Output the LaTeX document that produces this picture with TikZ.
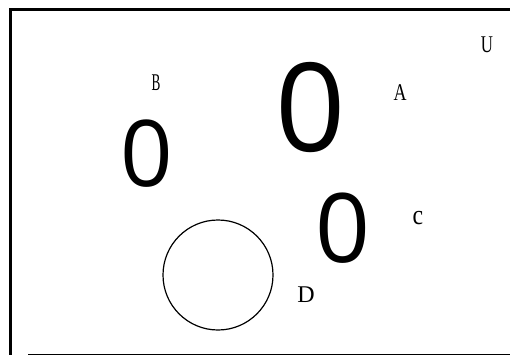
\documentclass[tikz,border=0pt]{standalone}
\usepackage{graphicx}
\usepackage{fontspec}
\setmainfont{Liberation Serif}
\newfontfamily\zerofont{Open Sans}
\begin{document}
\begin{tikzpicture}[x=1pt,y=-1pt,
  lbl/.style={inner sep=0pt, font=\fontsize{24}{24}\selectfont},
  zero/.style={inner sep=0pt},
  thickframe/.style={line width=2.6pt},
  thinframe/.style={line width=1pt},
  setcircle/.style={draw, circle, inner sep=0pt, minimum size=110pt, line width=1.2pt}]
\useasboundingbox (0,0) rectangle (510,355);
\coordinate (tl) at (10.5,9.7);
\coordinate (tr) at (510,9.7);
\coordinate (bl) at (10.5,355);
\coordinate (bbl) at (28,354);
\coordinate (bbr) at (510,354);
\draw[thickframe] (bl) -- (tl) -- (tr);
\draw[thinframe] (bbl) -- (bbr);
% labels
\node[lbl] (U) at (487,44.5) {\scalebox{0.7}[1]{U}};
\node[lbl] (B) at (156,83) {\scalebox{0.55}[1]{B}};
\node[lbl] (A) at (400,93) {\scalebox{0.75}[1]{A}};
\node[lbl, font=\fontsize{28}{28}\selectfont] (c) at (418,218.5) {\scalebox{0.85}[1]{c}};
\node[lbl] (D) at (306,295) {D};
% zeros
\node[zero, font=\zerofont\fontsize{123}{123}\selectfont] (z1) at (311,108) {0};
\node[zero, font=\zerofont\fontsize{92}{92}\selectfont] (z2) at (146.5,153.5) {0};
\node[zero, font=\zerofont\fontsize{96}{96}\selectfont] (z3) at (343,228) {0};
% circle
\node[setcircle] (Dc) at (218,275) {};
\end{tikzpicture}
\end{document}
